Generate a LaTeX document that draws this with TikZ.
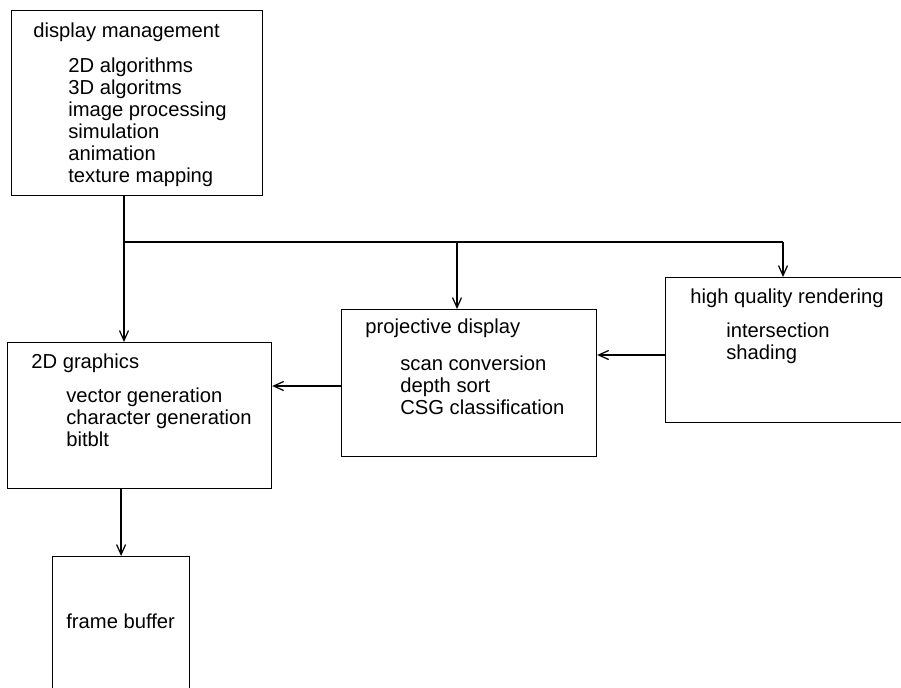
\documentclass[tikz,border=0pt]{standalone}
\usepackage{fontspec}
\setmainfont{Liberation Sans}
\usetikzlibrary{arrows.meta,positioning}

\begin{document}
\begin{tikzpicture}[x=0.02cm, y=-0.02cm,
    box/.style={rectangle, draw, line width=0.7pt, anchor=north west, inner sep=0pt},
    title/.style={anchor=base west, inner sep=0pt, font=\fontsize{11.5}{12.5}\selectfont},
    item/.style={anchor=base west, inner sep=0pt, font=\fontsize{11.5}{12.5}\selectfont},
    link/.style={line width=0.7pt},
    arrow/.style={line width=0.7pt, -{Straight Barb[length=2mm, width=1.8mm]}}]
    \useasboundingbox (0,0) rectangle (901,687);
    \clip (0,0) rectangle (901,687);

    % Boxes
    \node[box, minimum width=5.02cm, minimum height=3.7cm] (dm) at (11,10) {};
    \node[box, minimum width=5.28cm, minimum height=2.92cm] (twod) at (7,342) {};
    \node[box, minimum width=5.1cm, minimum height=2.94cm] (proj) at (341,309) {};
    \node[box, minimum width=5.9cm, minimum height=2.9cm] (hq) at (665,277) {};
    \node[box, minimum width=2.74cm, minimum height=3.48cm] (fb) at (52,556) {};

    % Titles
    \node[title] (dmtitle) at (33,37) {display management};
    \node[title] (twodtitle) at (31,368) {2D graphics};
    \node[title] (projtitle) at (365,333) {projective display};
    \node[title] (hqtitle) at (690,303) {high quality rendering};
    \node[title] (fbtitle) at (66,628) {frame buffer};

    % Items
    \foreach \t [count=\i] in {2D algorithms, 3D algoritms, image processing,
        simulation, animation, texture mapping}
        \node[item] (dm-\i) at (68,50+22*\i) {\t};
    \foreach \t [count=\i] in {vector generation, character generation, bitblt}
        \node[item] (twod-\i) at (66,380+22*\i) {\t};
    \foreach \t [count=\i] in {scan conversion, depth sort, CSG classification}
        \node[item] (proj-\i) at (400,348+22*\i) {\t};
    \foreach \t [count=\i] in {intersection, shading}
        \node[item] (hq-\i) at (726,315+22*\i) {\t};

    % Connectors
    \coordinate (split) at (124,242);
    \coordinate (pdrop) at (457,242);
    \coordinate (hqdrop) at (783,242);
    \coordinate (hqlink) at (665,355);
    \coordinate (projlink) at (341,386);
    \draw[arrow] (dm.south -| split) -- (twod.north -| split);
    \draw[link] (split) -- (hqdrop);
    \draw[arrow] (pdrop) -- (pdrop |- proj.north);
    \draw[arrow] (hqdrop) -- (hqdrop |- hq.north);
    \draw[arrow] (hqlink) -- (hqlink -| proj.east);
    \draw[arrow] (projlink) -- (projlink -| twod.east);
    \draw[arrow] (twod.south -| fb.north) -- (fb.north);
\end{tikzpicture}
\end{document}
